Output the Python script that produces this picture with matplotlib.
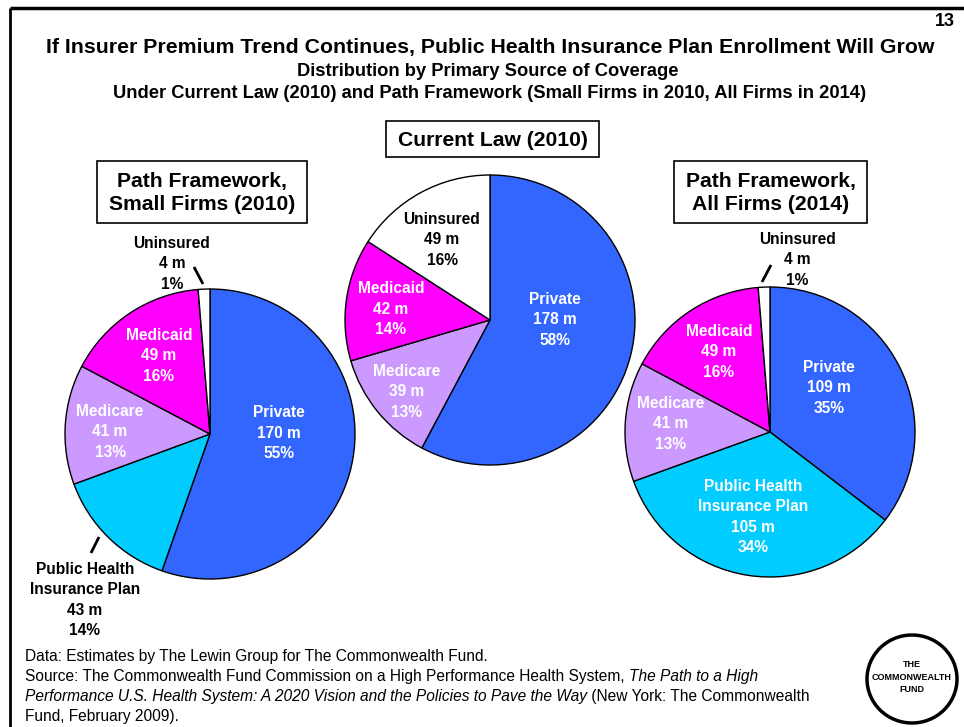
import matplotlib
matplotlib.use("Agg")
import matplotlib.pyplot as plt
from matplotlib.patches import Rectangle, Ellipse

plt.rcParams["font.family"] = ["Liberation Sans", "DejaVu Sans"]

# enrollment by primary source of coverage, millions of people
left_cats  = ["Private", "Public Health\nInsurance Plan", "Medicare", "Medicaid", "Uninsured"]
left_vals  = [170, 43, 41, 49, 4]
mid_cats   = ["Private", "Medicare", "Medicaid", "Uninsured"]
mid_vals   = [178, 39, 42, 49]
right_cats = ["Private", "Public Health\nInsurance Plan", "Medicare", "Medicaid", "Uninsured"]
right_vals = [109, 105, 41, 49, 4]

colors = {
    "Private": "#3366FF",
    "Public Health\nInsurance Plan": "#00CCFF",
    "Medicare": "#CC99FF",
    "Medicaid": "#FF00FF",
    "Uninsured": "#FFFFFF",
}

W, H = 964, 727
fig = plt.figure(figsize=(W / 100, H / 100), dpi=100)
ax = fig.add_axes([0, 0, 1, 1])

# pie layout: center, radius, label spots (pixel coords, y down), label colours
pies = [
    dict(cats=left_cats, vals=left_vals, center=(210, 434), r=145,
         spots=[(279, 433), (85, 600), (110, 432), (159, 356), (172, 264)],
         txt=["white", "black", "white", "white", "black"],
         leaders=[((91, 553), (99, 537)), ((194, 267), (203, 284))]),
    dict(cats=mid_cats, vals=mid_vals, center=(490, 320), r=145,
         spots=[(555, 320), (407, 392), (391, 309), (442, 240)],
         txt=["white", "white", "white", "black"],
         leaders=[]),
    dict(cats=right_cats, vals=right_vals, center=(770, 432), r=145,
         spots=[(829, 388), (753, 517), (671, 424), (719, 352), (797, 260)],
         txt=["white", "white", "white", "white", "black"],
         leaders=[((762, 282), (771, 265))]),
]

for p in pies:
    total = sum(p["vals"])
    # y axis is flipped, so startangle=-90 / counterclock puts the first slice
    # at 12 o'clock going clockwise on screen
    ax.pie(p["vals"], colors=[colors[c] for c in p["cats"]], center=p["center"],
           radius=p["r"], startangle=-90, counterclock=True, frame=True,
           wedgeprops=dict(edgecolor="black", linewidth=1.0))
    for cat, v, (x, y), col in zip(p["cats"], p["vals"], p["spots"], p["txt"]):
        ax.text(x, y, f"{cat}\n{v} m\n{round(100 * v / total)}%", color=col,
                ha="center", va="center", fontsize=11.2, fontweight="bold",
                linespacing=1.45)
    for (x0, y0), (x1, y1) in p["leaders"]:
        ax.plot([x0, x1], [y0, y1], color="black", lw=2, solid_capstyle="butt")

# scenario boxes
boxes = [
    ("Path Framework,\nSmall Firms (2010)", 97, 161, 307, 223),
    ("Current Law (2010)", 386, 121, 599, 157),
    ("Path Framework,\nAll Firms (2014)", 674, 161, 867, 223),
]
for txt, x0, y0, x1, y1 in boxes:
    ax.add_patch(Rectangle((x0, y0), x1 - x0, y1 - y0, facecolor="white",
                           edgecolor="black", lw=1.2, zorder=3))
    ax.text((x0 + x1) / 2, (y0 + y1) / 2 + 1, txt, ha="center", va="center",
            fontsize=15.2, fontweight="bold", linespacing=1.32, zorder=4)

# titles
ax.text(490, 47, "If Insurer Premium Trend Continues, Public Health Insurance Plan Enrollment Will Grow",
        ha="center", va="center", fontsize=15.3, fontweight="bold")
ax.text(488, 71, "Distribution by Primary Source of Coverage",
        ha="center", va="center", fontsize=13.2, fontweight="bold")
ax.text(490, 94, "Under Current Law (2010) and Path Framework (Small Firms in 2010, All Firms in 2014)",
        ha="center", va="center", fontsize=13.2, fontweight="bold")
ax.text(945, 22, "13", ha="center", va="center", fontsize=13, fontweight="bold")

# frame lines
ax.plot([9.5, 9.5], [8, H], color="black", lw=2, solid_capstyle="butt")
ax.plot([9.5, W], [8, 8], color="black", lw=2.5, solid_capstyle="butt")

# footnotes, with italic book title spliced in
fs = 11.2
ax.text(25, 656, "Data: Estimates by The Lewin Group for The Commonwealth Fund.",
        va="center", fontsize=fs)
t = ax.text(25, 676, "Source: The Commonwealth Fund Commission on a High Performance Health System, ",
            va="center", fontsize=fs)
ax.annotate("The Path to a High", xy=(1, 0), xycoords=t, va="bottom", ha="left",
            fontsize=fs, style="italic")
t = ax.text(25, 697, "Performance U.S. Health System: A 2020 Vision and the Policies to Pave the Way",
            va="center", fontsize=fs, style="italic")
ax.annotate(" (New York: The Commonwealth", xy=(1, 0), xycoords=t, va="bottom", ha="left",
            fontsize=fs)
ax.text(25, 716, "Fund, February 2009).", va="center", fontsize=fs)

# logo
ax.add_patch(Ellipse((912, 679), 90, 88, facecolor="white", edgecolor="black", lw=2.5))
ax.text(912, 677, "THE\nCOMMONWEALTH\nFUND", ha="center", va="center", fontsize=6.5,
        fontweight="bold", linespacing=1.5)

ax.set_xlim(0, W)
ax.set_ylim(H, 0)
ax.set_aspect("equal")
ax.set_axis_off()

fig.savefig("out.png", dpi=100, facecolor="white")
